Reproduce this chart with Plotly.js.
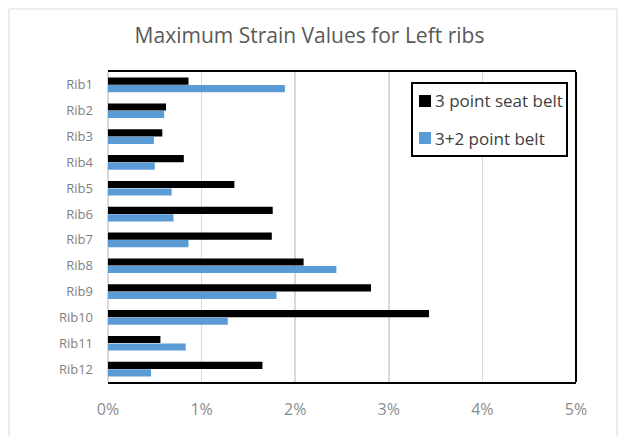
<!DOCTYPE html>
<html>
<head>
<meta charset="utf-8">
<script src="https://cdn.plot.ly/plotly-3.0.1.min.js"></script>
<style>
  html, body { margin: 0; padding: 0; background: #ffffff; }
  #chart { width: 619px; height: 436px; }
</style>
</head>
<body>
<div id="chart"></div>
<script>
// Rib labels, top to bottom
const ribs = ["Rib1", "Rib2", "Rib3", "Rib4", "Rib5", "Rib6",
              "Rib7", "Rib8", "Rib9", "Rib10", "Rib11", "Rib12"];

// Maximum strain (fraction) per rib
const seatBelt3pt = [0.0086, 0.0062, 0.0058, 0.0081, 0.0135, 0.0176,
                     0.0175, 0.0209, 0.0281, 0.0343, 0.0056, 0.0165];
const belt3plus2 = [0.0189, 0.0060, 0.0049, 0.0050, 0.0068, 0.0070,
                    0.0086, 0.0244, 0.0180, 0.0128, 0.0083, 0.0046];

const seriesNames = ["3 point seat belt", "3+2 point belt"];
const seriesColors = ["#000000", "#5b9bd5"];
const xTickVals = [0, 0.01, 0.02, 0.03, 0.04, 0.05];
const xTickText = ["0%", "1%", "2%", "3%", "4%", "5%"];

const font = "'Open Sans', 'Liberation Sans', sans-serif";

const traces = [seatBelt3pt, belt3plus2].map((vals, i) => ({
  type: "bar", orientation: "h", name: seriesNames[i],
  y: ribs, x: vals,
  marker: { color: seriesColors[i] },
  hoverinfo: "x+y"
}));

// Plot area in pixels: x 108..576, y 72..382
const PX = { l: 108, r: 576, t: 72, b: 382 };
const px2x = v => (v - PX.l) / (PX.r - PX.l);
const px2y = v => 1 - (v - PX.t) / (PX.b - PX.t);

// Legend box drawn inside the plot area, upper right
const legendShapes = [
  { type: "rect", xref: "paper", yref: "paper",
    x0: px2x(412), x1: px2x(567), y0: px2y(156), y1: px2y(83),
    fillcolor: "#ffffff", line: { color: "#000000", width: 2 }, layer: "above" }
];
const legendRows = [101, 138];
const legendAnnotations = [];
seriesNames.forEach((name, i) => {
  const cy = legendRows[i];
  legendShapes.push({
    type: "rect", xref: "paper", yref: "paper",
    x0: px2x(419), x1: px2x(431), y0: px2y(cy + 6), y1: px2y(cy - 6),
    fillcolor: seriesColors[i], line: { width: 0 }, layer: "above"
  });
  legendAnnotations.push({
    xref: "paper", yref: "paper", x: px2x(433), y: px2y(cy),
    xanchor: "left", yanchor: "middle", showarrow: false,
    text: name, font: { family: font, size: 17, color: "#404040" }
  });
});

const layout = {
  width: 619, height: 436,
  paper_bgcolor: "#ffffff", plot_bgcolor: "#ffffff",
  margin: { l: PX.l, r: 619 - PX.r, t: PX.t, b: 436 - PX.b },
  font: { family: font, color: "#808080" },
  title: {
    text: "Maximum Strain Values for Left ribs",
    font: { family: font, size: 21, color: "#595959" },
    x: 0.5, xanchor: "center", xref: "container",
    y: 1 - 36 / 436, yanchor: "middle", yref: "container"
  },
  barmode: "group",
  bargap: 0.42,
  bargroupgap: 0.05,
  showlegend: false,
  xaxis: {
    range: [0, 0.05],
    tickvals: xTickVals, ticktext: xTickText,
    showgrid: true, gridcolor: "#d9d9d9", gridwidth: 1.5,
    zeroline: true, zerolinecolor: "#d9d9d9", zerolinewidth: 1.5,
    showline: true, linecolor: "#000000", linewidth: 2, mirror: true,
    ticks: "", ticklabelstandoff: 12,
    tickfont: { family: font, size: 16, color: "#8c8c8c" },
    fixedrange: true
  },
  yaxis: {
    autorange: "reversed",
    showgrid: false, zeroline: false, showline: false,
    ticks: "", ticklabelstandoff: 14,
    tickfont: { family: font, size: 13, color: "#7f7f7f" },
    fixedrange: true
  },
  annotations: legendAnnotations,
  shapes: [
    // right edge of the plot frame
    { type: "line", xref: "paper", yref: "paper", x0: 1, x1: 1, y0: 0, y1: 1,
      line: { color: "#000000", width: 2 } },
    // light chart-area border
    { type: "rect", xref: "paper", yref: "paper",
      x0: px2x(9), x1: px2x(617), y0: -0.3, y1: px2y(9),
      line: { color: "#d9d9d9", width: 1 }, layer: "below" }
  ].concat(legendShapes)
};

Plotly.newPlot("chart", traces, layout, { displayModeBar: false, staticPlot: true });
</script>
</body>
</html>
